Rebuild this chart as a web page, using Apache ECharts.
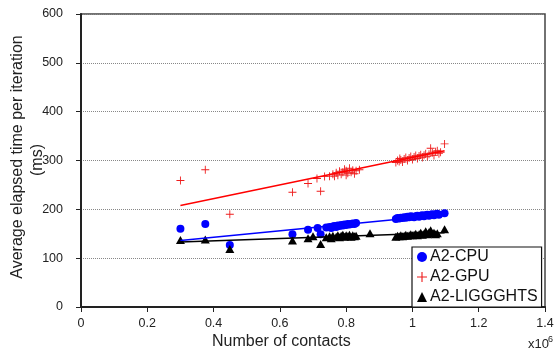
<!DOCTYPE html>
<html>
<head>
<meta charset="utf-8">
<script src="https://cdn.jsdelivr.net/npm/echarts@6/dist/echarts.min.js"></script>
<style>
html,body{margin:0;padding:0;background:#fff;}
#chart{width:560px;height:356px;}
</style>
</head>
<body>
<div id="chart"></div>
<script>
// x in millions of contacts, y in ms
var cpuPoints = [
    [0.30,160],[0.375,170],[0.449,127],[0.638,149],[0.685,158],[0.714,162],[0.723,149],
    [0.74,163],[0.75,164],[0.755,162],[0.76,165],[0.765,166],[0.77,164],[0.775,167],[0.78,166],
    [0.785,168],[0.79,167],[0.795,169],[0.80,168],[0.805,170],[0.81,169],[0.815,170],[0.82,171],
    [0.825,170],[0.83,172],
    [0.95,180],[0.955,182],[0.96,181],[0.965,183],[0.97,182],[0.975,184],[0.98,183],[0.985,185],
    [0.99,184],[0.995,186],[1.0,185],[1.005,184],[1.01,186],[1.015,187],[1.02,185],[1.025,187],
    [1.03,188],[1.035,186],[1.04,188],[1.045,189],[1.05,187],[1.055,189],[1.06,190],[1.065,188],
    [1.07,190],[1.075,191],[1.08,189],[1.097,192]
];
var gpuPoints = [
    [0.30,259],[0.375,281],[0.449,190],[0.638,235],[0.685,253],[0.712,263],[0.723,237],[0.735,267],
    [0.75,268],[0.76,272],[0.765,268],[0.77,275],[0.775,270],[0.78,278],[0.785,272],[0.79,276],
    [0.795,282],[0.80,270],[0.80,279],[0.805,274],[0.81,284],[0.815,276],[0.82,280],[0.825,273],
    [0.83,279],[0.84,281],
    [0.95,296],[0.955,300],[0.96,298],[0.962,304],[0.965,301],[0.97,297],[0.975,303],[0.98,306],
    [0.985,300],[0.99,305],[0.995,308],[1.0,302],[1.005,307],[1.01,310],[1.015,304],[1.02,309],
    [1.025,312],[1.03,306],[1.035,311],[1.04,314],[1.045,308],[1.05,313],[1.055,325],[1.06,316],
    [1.065,310],[1.07,318],[1.075,320],[1.08,314],[1.085,317],[1.097,334]
];
var liggPoints = [
    [0.30,137],[0.375,138],[0.449,119],[0.638,136],[0.685,141],[0.70,145],[0.723,129],
    [0.74,143],[0.75,145],[0.755,141],[0.76,146],[0.77,144],[0.775,147],[0.78,143],[0.785,146],
    [0.79,148],[0.795,144],[0.80,147],[0.805,145],[0.81,148],[0.815,144],[0.82,147],[0.825,145],
    [0.83,146],[0.872,151],
    [0.95,144],[0.955,146],[0.96,145],[0.965,147],[0.97,145],[0.975,146],[0.98,148],[0.985,146],
    [0.99,147],[0.995,149],[1.0,147],[1.005,148],[1.01,150],[1.015,147],[1.02,149],[1.025,152],
    [1.03,148],[1.035,150],[1.04,155],[1.045,149],[1.05,153],[1.055,157],[1.06,150],[1.065,152],
    [1.07,149],[1.075,151],[1.097,159]
];
// linear trend lines, endpoints
var cpuTrend = [[0.30,136],[1.097,189]];
var gpuTrend = [[0.30,208],[1.097,320]];
var liggTrend = [[0.30,133],[1.097,152]];

var seriesNames = ['A2-CPU','A2-GPU','A2-LIGGGHTS'];

var crossPath = 'path://M4,0h1v4h4v1h-4v4h-1v-4h-4v-1h4z';
var font = 'Liberation Sans, Arial, sans-serif';

var chart = echarts.init(document.getElementById('chart'));
var option = {
    animation: false,
    backgroundColor: '#fff',
    textStyle: {fontFamily: font},
    grid: {
        left: 81, right: 15, top: 14, bottom: 49,
        containLabel: false, outerBoundsMode: 'none',
        show: true, borderColor: '#444', borderWidth: 1.5, backgroundColor: 'transparent'
    },
    legend: {
        data: seriesNames,
        orient: 'vertical',
        left: 412, top: 247,
        padding: [2, 4, 2, 5],
        itemGap: 4,
        itemWidth: 10, itemHeight: 10,
        backgroundColor: '#fff',
        borderColor: '#111', borderWidth: 1.2, borderRadius: 0,
        textStyle: {fontFamily: font, fontSize: 16, color: '#111', lineHeight: 16, padding: [0,0,0,-2]}
    },
    xAxis: {
        type: 'value', min: 0, max: 1.4, interval: 0.2,
        axisLine: {show: true, lineStyle: {color: '#222', width: 2}},
        axisTick: {show: true, length: 5, lineStyle: {color: '#222'}},
        axisLabel: {
            margin: 10, color: '#222', fontSize: 12.5, fontFamily: font,
            formatter: function (v) { return String(+v.toFixed(1)); }
        },
        splitLine: {show: false}
    },
    yAxis: {
        type: 'value', min: 0, max: 600, interval: 100,
        axisLine: {show: true, lineStyle: {color: '#222', width: 2}},
        axisTick: {show: true, length: 5, lineStyle: {color: '#222'}},
        axisLabel: {margin: 18, color: '#222', fontSize: 12.5, fontFamily: font},
        splitLine: {show: true, lineStyle: {color: '#888', type: 'dotted', width: 1}}
    },
    graphic: [
        // y axis title, two lines
        {type: 'text', x: 18, y: 157, rotation: Math.PI / 2,
            style: {text: 'Average elapsed time per iteration', font: '16px ' + font, fill: '#222', align: 'center', verticalAlign: 'middle'}},
        {type: 'text', x: 38, y: 160, rotation: Math.PI / 2,
            style: {text: '(ms)', font: '16px ' + font, fill: '#222', align: 'center', verticalAlign: 'middle'}},
        {type: 'text', left: 212, top: 334, style: {text: 'Number of contacts', font: '16px ' + font, fill: '#222'}},
        {type: 'text', left: 528, top: 338, style: {text: 'x10', font: '13px ' + font, fill: '#222'}},
        {type: 'text', left: 548, top: 335, style: {text: '6', font: '9px ' + font, fill: '#222'}}
    ],
    series: [
        {
            name: 'A2-CPU', type: 'scatter', data: cpuPoints,
            symbol: 'circle', symbolSize: 8,
            itemStyle: {color: '#0000ff', opacity: 1}
        },
        {
            name: 'A2-GPU', type: 'scatter', data: gpuPoints,
            symbol: crossPath, symbolSize: 8,
            itemStyle: {color: '#ee1c1c', opacity: 1}
        },
        {
            name: 'A2-LIGGGHTS', type: 'scatter', data: liggPoints,
            symbol: 'triangle', symbolSize: [9, 8],
            itemStyle: {color: '#000', opacity: 1}
        },
        {
            type: 'line', data: cpuTrend, showSymbol: false, silent: true,
            lineStyle: {color: '#0000ff', width: 1.5}
        },
        {
            type: 'line', data: gpuTrend, showSymbol: false, silent: true,
            lineStyle: {color: '#ff0000', width: 1.5}
        },
        {
            type: 'line', data: liggTrend, showSymbol: false, silent: true,
            lineStyle: {color: '#000', width: 1.5}
        }
    ]
};
chart.setOption(option);
</script>
</body>
</html>
